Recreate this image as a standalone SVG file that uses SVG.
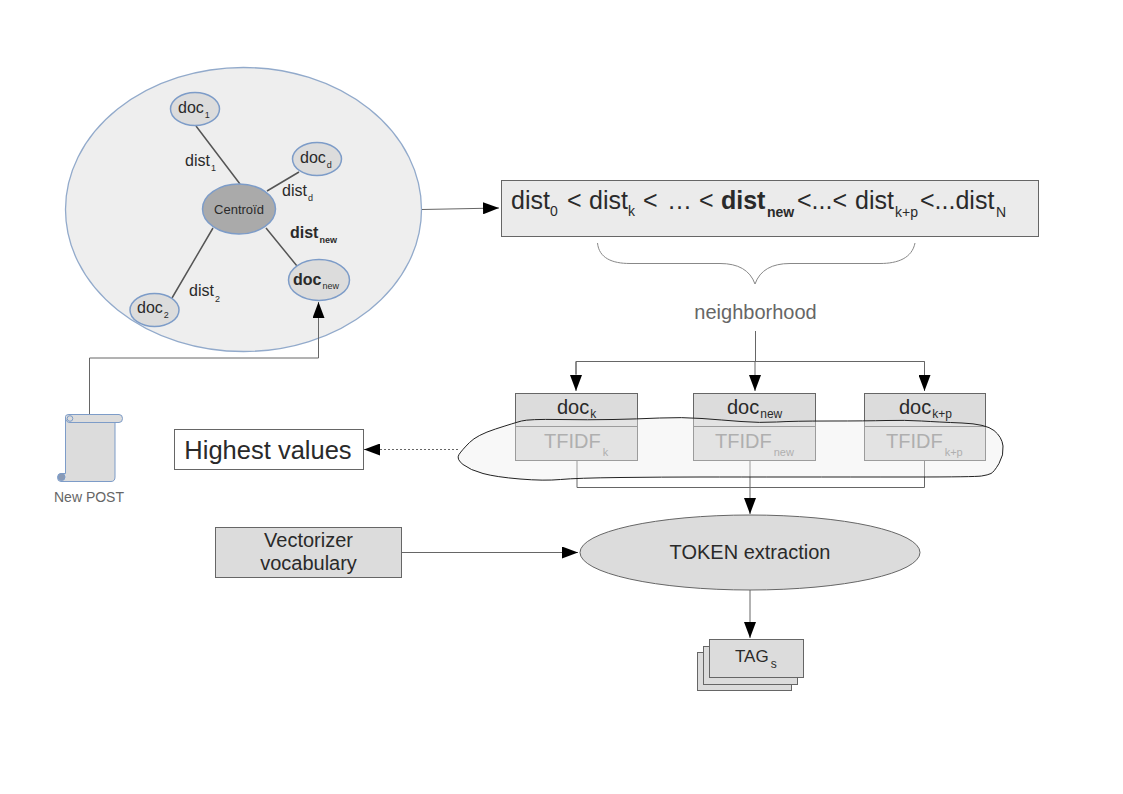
<svg xmlns="http://www.w3.org/2000/svg" width="1123" height="794" viewBox="0 0 1123 794">
<style>
text{font-family:"Liberation Sans",Arial,sans-serif;fill:#2a2a2a}
.bl{fill:#dcdcdc;stroke:#7d9cc8;stroke-width:1.5}
.box{fill:#dcdcdc;stroke:#666;stroke-width:1}
.c{fill:none;stroke:#666;stroke-width:1}
.s{fill:none;stroke:#555;stroke-width:1.5}
.m{text-anchor:middle}
.f{fill:#858585}
</style>
<defs>
<marker id="a" markerUnits="userSpaceOnUse" markerWidth="17" markerHeight="12" refX="16" refY="6" orient="auto"><path d="M0 0L16 6L0 12Z" fill="#000"/></marker>
</defs>
<rect width="1123" height="794" fill="#fff"/>
<g id="cluster"><ellipse cx="243.500" cy="209.500" rx="178" ry="142" fill="#eee" stroke="#92aacb" stroke-width="1.300"/></g>
<g id="connectors">
<path class="s" d="M196 126L240 184M267 191L299 172M266 228L297 266M213 228L172 298"/>
<path class="c" d="M422 209.500L499 208" marker-end="url(#a)"/>
<path class="c" d="M89.500 414V358H318.500V302" marker-end="url(#a)"/>
<path class="c" d="M755.500 331V361.500M576 374V361.500H924.500V374"/>
<path class="c" d="M576 361.500V391" marker-end="url(#a)"/>
<path class="c" d="M755 361.500V391" marker-end="url(#a)"/>
<path class="c" d="M924.500 361.500V391" marker-end="url(#a)"/>
<path class="c" d="M577 461V487.500H924.500V461M750 461V514" marker-end="url(#a)"/>
<path class="c" d="M401 552.500H578" marker-end="url(#a)"/>
<path class="c" d="M750 590V638" marker-end="url(#a)"/>
<path class="c" stroke-dasharray="2 2" d="M458 449.500H364" marker-end="url(#a)"/>
</g>
<g id="centroid"><ellipse cx="239" cy="209" rx="36.500" ry="25" fill="#aaa" stroke="#7d9cc8" stroke-width="1.500"/><text class="m" x="239" y="214" font-size="13">Centroïd</text></g>
<g id="doc1"><ellipse class="bl" cx="195" cy="109" rx="24.500" ry="16.500"/><text x="178" y="113" font-size="16">doc<tspan font-size="9" dx="1" dy="5">1</tspan></text></g>
<g id="docd"><ellipse class="bl" cx="317" cy="159" rx="24.500" ry="16.500"/><text x="300" y="163" font-size="16">doc<tspan font-size="9" dx="1" dy="5">d</tspan></text></g>
<g id="docnew"><ellipse class="bl" cx="319" cy="280" rx="30.500" ry="20.500"/><text x="293" y="285" font-size="16" font-weight="bold">doc<tspan font-size="9" font-weight="normal" dx="1" dy="4">new</tspan></text></g>
<g id="doc2"><ellipse class="bl" cx="154.500" cy="310" rx="24.500" ry="16.500"/><text x="137" y="313" font-size="16">doc<tspan font-size="9" dx="1" dy="5">2</tspan></text></g>
<g id="labels">
<text x="185" y="166" font-size="16">dist<tspan font-size="9" dx="1" dy="5">1</tspan></text>
<text x="282" y="196" font-size="16">dist<tspan font-size="9" dx="1" dy="5">d</tspan></text>
<text x="290" y="238" font-size="16" font-weight="bold">dist<tspan font-size="9" dx="1" dy="5">new</tspan></text>
<text x="189" y="296" font-size="16">dist<tspan font-size="9" dx="1" dy="6">2</tspan></text>
<text class="m" x="755.500" y="319" font-size="20" style="fill:#666">neighborhood</text>
</g>
<g id="ranking"><rect x="501.500" y="180.500" width="537" height="56" fill="#ebebeb" stroke="#666"/>
<text y="209" font-size="25"><tspan x="511">dist</tspan><tspan x="550" y="216" font-size="14">0</tspan><tspan x="567" y="209">&lt;</tspan><tspan x="589">dist</tspan><tspan x="628" y="216" font-size="14">k</tspan><tspan x="643" y="209">&lt;</tspan><tspan x="667">…</tspan><tspan x="699">&lt;</tspan><tspan x="721" font-weight="bold">dist</tspan><tspan x="767" y="217" font-size="14" font-weight="bold">new</tspan><tspan x="797" y="209">&lt;...&lt;</tspan><tspan x="855">dist</tspan><tspan x="895" y="217" font-size="14">k+p</tspan><tspan x="920" y="209">&lt;...dist</tspan><tspan x="996" y="217" font-size="14">N</tspan></text></g>
<g id="brace"><path d="M597.500 243C599 258 612 263.500 630 263.500H720C738 263.500 750 270 755 284C760 270 772 263.500 790 263.500H880C898 263.500 912 258 915 243" fill="none" stroke="#888"/></g>
<g id="new-post">
<path class="bl" d="M65.500 416.500Q65.500 414.500 69 414.500H119Q122.500 414.500 122.500 418.500T119 422.500H115V477Q115 481.500 111 481.500H61Q57.500 481.500 57.500 477.500T61 473.500H65.500Z" style="stroke-width:1"/>
<path d="M70 422.500H115M65.500 418Q66 422.500 70 422.500" fill="none" stroke="#7d9cc8"/>
<circle cx="70" cy="418.500" r="2.800" fill="#dcdcdc" stroke="#7d9cc8"/><circle cx="61.500" cy="477" r="3.500" fill="#8a9ab5" stroke="#7d9cc8"/>
<text class="m" x="89" y="502" font-size="14" style="fill:#666">New POST</text>
</g>
<g id="highest"><rect x="174.500" y="429.500" width="189" height="40" fill="#fff" stroke="#666"/><text class="m" x="268" y="459" font-size="25.500">Highest values</text></g>
<g id="doc-k"><rect class="box" x="515.500" y="393.500" width="122" height="67"/><path class="c" d="M515.500 426.500H637.500"/><text x="557" y="414" font-size="20">doc<tspan font-size="12" dx="1" dy="4">k</tspan></text><text class="f" x="544" y="448" font-size="20">TFIDF<tspan class="f" font-size="11" dx="2" dy="8">k</tspan></text></g>
<g id="doc-new"><rect class="box" x="693.500" y="393.500" width="122" height="67"/><path class="c" d="M693.500 426.500H815.500"/><text x="727" y="414" font-size="20">doc<tspan font-size="12" dx="1" dy="4">new</tspan></text><text class="f" x="715" y="448" font-size="20">TFIDF<tspan class="f" font-size="11" dx="2" dy="8">new</tspan></text></g>
<g id="doc-kp"><rect class="box" x="864.500" y="393.500" width="121" height="67"/><path class="c" d="M864.500 426.500H985.500"/><text x="899" y="414" font-size="20">doc<tspan font-size="12" dx="1" dy="4">k+p</tspan></text><text class="f" x="886" y="448" font-size="20">TFIDF<tspan class="f" font-size="11" dx="2" dy="8">k+p</tspan></text></g>
<g id="cloud"><path d="M463 464.500Q456 459 459 454.500Q462 450 469.500 442.500Q477 435 495.500 429Q514 423 521.500 421Q529 419 559 419.500Q589 420 613 419.500Q637 419 659.500 418Q682 417 702 418.500Q722 420 741 421.500Q760 423 776.500 422Q793 421 830 421Q867 421 886 420.500Q905 420 921.500 421Q938 422 962 423Q986 424 994 430.500Q1002 437 1003 446Q1004 455 999 463.500Q994 472 991 473.500Q988 475 981.500 476Q975 477 912 477Q849 477 793 477Q737 477 700 477Q663 477 620 477.500Q577 478 560.500 479.500Q544 481 520 479Q496 477 483 473.500Q470 470 463 464.500Z" fill="#eee" fill-opacity="0.4" stroke="#222" stroke-width="1"/></g>
<g id="vectorizer"><rect x="215.500" y="527.500" width="186" height="50" fill="#dcdcdc" stroke="#666"/><text class="m" x="308.500" y="547" font-size="20">Vectorizer</text><text class="m" x="308.500" y="570" font-size="20">vocabulary</text></g>
<g id="token"><ellipse cx="750" cy="552.500" rx="170" ry="37.500" fill="#dcdcdc" stroke="#666"/><text class="m" x="750" y="559" font-size="20">TOKEN extraction</text></g>
<g id="tags"><rect class="box" x="697.500" y="652.500" width="94" height="38"/><rect class="box" x="703.500" y="646.500" width="94" height="38"/><rect class="box" x="709.500" y="639.500" width="94" height="38"/><text x="735" y="662" font-size="17">TAG<tspan font-size="12" dx="2" dy="6">s</tspan></text></g>
</svg>
